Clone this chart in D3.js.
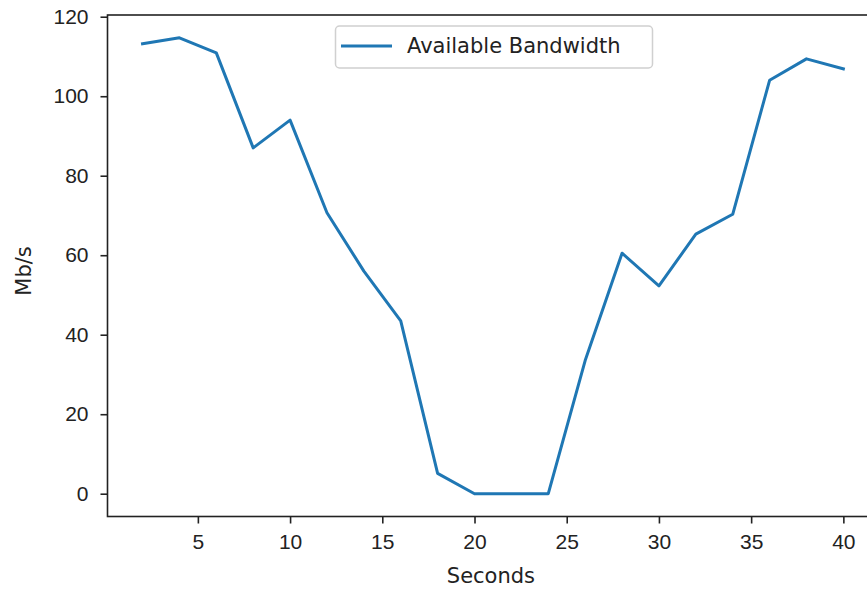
<!DOCTYPE html>
<html>
<head>
<meta charset="utf-8">
<script src="https://cdn.jsdelivr.net/npm/d3@7"></script>
<style>
  body { margin: 0; background: #fff; }
  svg { display: block; font-family: "DejaVu Sans", sans-serif; }
</style>
</head>
<body>
<svg id="chart" width="867" height="592"></svg>
<script>
// Data
const seconds = [2, 4, 6, 8, 10, 12, 14, 16, 18, 20, 22, 24, 26, 28, 30, 32, 34, 36, 38, 40];
const bandwidth = [113.2, 114.7, 110.9, 87.0, 94.0, 70.7, 56.0, 43.5, 5.1, 0, 0, 0, 33.5, 60.5, 52.3, 65.3, 70.3, 104.0, 109.4, 106.9];
const xTicks = [5, 10, 15, 20, 25, 30, 35, 40];
const yTicks = [0, 20, 40, 60, 80, 100, 120];
const seriesName = 'Available Bandwidth';

const svg = d3.select('#chart');
const plotLeft = 107.5, plotRight = 878.4, plotTop = 15, plotBottom = 516.5;
const fontSize = 21;
const textColor = '#222';

// matplotlib-style 5% margins
const xExt = d3.extent(seconds), yExt = d3.extent(bandwidth);
const xPad = (xExt[1] - xExt[0]) * 0.05, yPad = (yExt[1] - yExt[0]) * 0.05;

const x = d3.scaleLinear().domain([xExt[0] - xPad, xExt[1] + xPad]).range([plotLeft, plotRight]);
const y = d3.scaleLinear().domain([yExt[0] - yPad, yExt[1] + yPad]).range([plotBottom, plotTop]);

// axes
const xAxis = svg.append('g')
    .attr('transform', `translate(0,${plotBottom})`)
    .call(d3.axisBottom(x).tickValues(xTicks).tickSize(7).tickPadding(11).tickFormat(d3.format('d')));
const yAxis = svg.append('g')
    .attr('transform', `translate(${plotLeft},0)`)
    .call(d3.axisLeft(y).tickValues(yTicks).tickSize(7).tickPadding(12).tickFormat(d3.format('d')));

[xAxis, yAxis].forEach(g => {
    g.select('.domain').remove();
    g.selectAll('.tick line').attr('stroke', textColor).attr('stroke-width', 1.6);
    g.selectAll('.tick text').attr('fill', textColor).style('font-size', fontSize + 'px');
});

// line
const line = d3.line().x((d, i) => x(seconds[i])).y(d => y(d));
svg.append('path')
    .datum(bandwidth)
    .attr('fill', 'none')
    .attr('stroke', '#1f77b4')
    .attr('stroke-width', 3)
    .attr('stroke-linejoin', 'round')
    .attr('stroke-linecap', 'square')
    .attr('d', line);

// spines
svg.append('rect')
    .attr('x', plotLeft).attr('y', plotTop)
    .attr('width', plotRight - plotLeft).attr('height', plotBottom - plotTop)
    .attr('fill', 'none')
    .attr('stroke', textColor)
    .attr('stroke-width', 1.6);

// axis labels
svg.append('text')
    .attr('x', (plotLeft + plotRight) / 2 - 2).attr('y', 583)
    .attr('text-anchor', 'middle')
    .attr('fill', textColor)
    .style('font-size', fontSize + 'px')
    .text('Seconds');

svg.append('text')
    .attr('transform', `translate(31,271) rotate(-90)`)
    .attr('text-anchor', 'middle')
    .attr('fill', textColor)
    .style('font-size', fontSize + 'px')
    .text('Mb/s');

// legend
const legend = svg.append('g');
legend.append('rect')
    .attr('x', 335.5).attr('y', 26)
    .attr('width', 317).attr('height', 42)
    .attr('rx', 4)
    .attr('fill', '#fff').attr('fill-opacity', 0.8)
    .attr('stroke', '#d0d0d0').attr('stroke-width', 1.5);
legend.append('line')
    .attr('x1', 341).attr('x2', 392)
    .attr('y1', 46).attr('y2', 46)
    .attr('stroke', '#1f77b4').attr('stroke-width', 3);
legend.append('text')
    .attr('x', 407).attr('y', 46)
    .attr('dy', '0.35em')
    .attr('fill', textColor)
    .style('font-size', fontSize + 'px')
    .text(seriesName);
</script>
</body>
</html>
